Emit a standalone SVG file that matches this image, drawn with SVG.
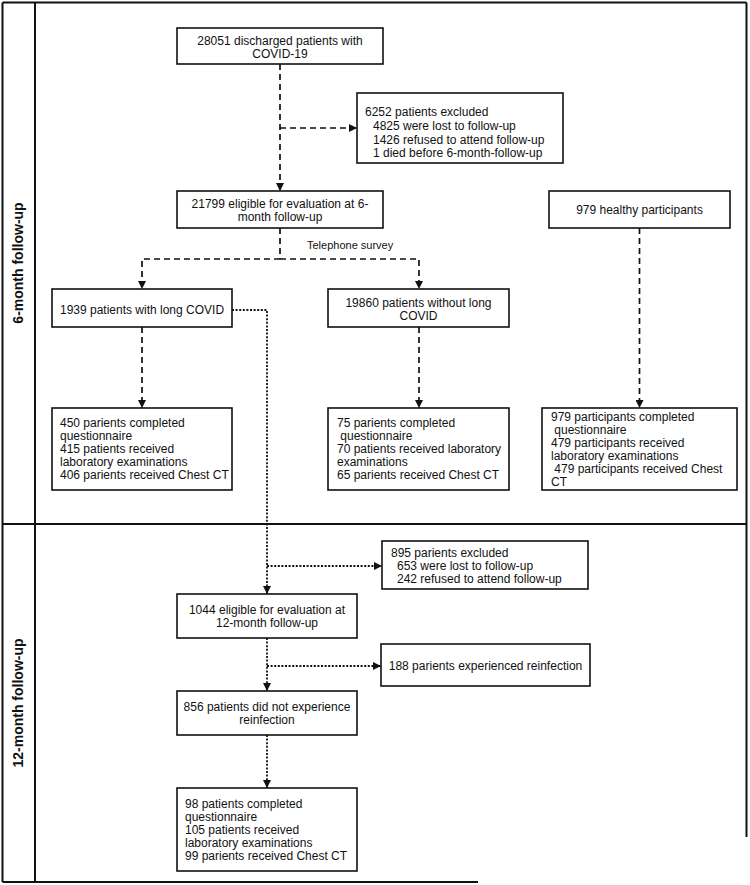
<svg xmlns="http://www.w3.org/2000/svg" width="750" height="885" viewBox="0 0 750 885">
<style>
.frame{stroke:#111;stroke-width:2;fill:none}
.box{fill:#fff;stroke:#111;stroke-width:1.6}
.t{font-family:"Liberation Sans",Arial,sans-serif;font-size:12px;fill:#111}
.c{text-anchor:middle}
.lbl{font-family:"Liberation Sans",Arial,sans-serif;font-size:14px;font-weight:bold;fill:#111;text-anchor:middle}
.dash{stroke:#111;stroke-width:1.7;fill:none;stroke-dasharray:6 4}
.dot{stroke:#111;stroke-width:1.8;fill:none;stroke-dasharray:2 1.6}
</style>
<defs>
<marker id="arr" viewBox="0 0 10 10" refX="10" refY="5" markerWidth="8" markerHeight="8" markerUnits="userSpaceOnUse" orient="auto">
<path d="M0,0 L10,5 L0,10 z" fill="#111"/>
</marker>
</defs>
<rect width="750" height="885" fill="#fff"/>
<g id="frame">
<line class="frame" x1="2.5" y1="2.5" x2="746.5" y2="2.5"/>
<line class="frame" x1="2.5" y1="2.5" x2="2.5" y2="882"/>
<line class="frame" x1="746.5" y1="2.5" x2="746.5" y2="837"/>
<line class="frame" x1="2.5" y1="882" x2="478" y2="882"/>
<line class="frame" x1="35" y1="2.5" x2="35" y2="882"/>
<line class="frame" x1="2.5" y1="524" x2="746.5" y2="524"/>
<text class="lbl" transform="translate(23,263) rotate(-90)">6-month follow-up</text>
<text class="lbl" transform="translate(23,703) rotate(-90)">12-month follow-up</text>
</g>
<g id="connectors">
<path class="dash" d="M280,64 V191" marker-end="url(#arr)"/>
<path class="dash" d="M280,128 H357" marker-end="url(#arr)"/>
<path class="dash" d="M280,228 V259"/>
<path class="dash" d="M280,259 H142 V289" marker-end="url(#arr)"/>
<path class="dash" d="M280,259 H419 V289" marker-end="url(#arr)"/>
<path class="dash" d="M142,327 V408" marker-end="url(#arr)"/>
<path class="dash" d="M419,327 V408" marker-end="url(#arr)"/>
<path class="dash" d="M639.5,228 V408" marker-end="url(#arr)"/>
<path class="dot" d="M232,310 H267 V594" marker-end="url(#arr)"/>
<path class="dot" d="M267,566 H382" marker-end="url(#arr)"/>
<path class="dot" d="M267,638 V691" marker-end="url(#arr)"/>
<path class="dot" d="M267,666 H381" marker-end="url(#arr)"/>
<path class="dot" d="M267,735 V788" marker-end="url(#arr)"/>
<text class="t" x="307" y="249" style="font-size:11px">Telephone survey</text>
</g>
<g id="n_discharged">
<rect class="box" x="177" y="28" width="206" height="36"/>
<text class="t c" x="280" y="45">28051 discharged patients with</text>
<text class="t c" x="280" y="58">COVID-19</text>
</g>
<g id="n_excluded6">
<rect class="box" x="357" y="93" width="206" height="70"/>
<text class="t" x="365" y="116">6252 patients excluded</text>
<text class="t" x="373" y="130">4825 were lost to follow-up</text>
<text class="t" x="373" y="143.5">1426 refused to attend follow-up</text>
<text class="t" x="373" y="157">1 died before 6-month-follow-up</text>
</g>
<g id="n_eligible6">
<rect class="box" x="177" y="191" width="206" height="37"/>
<text class="t c" x="280" y="208">21799 eligible for evaluation at 6-</text>
<text class="t c" x="280" y="221">month follow-up</text>
</g>
<g id="n_healthy">
<rect class="box" x="549" y="191" width="181" height="37"/>
<text class="t c" x="639.5" y="214">979 healthy participants</text>
</g>
<g id="n_long">
<rect class="box" x="52" y="289" width="180" height="38"/>
<text class="t c" x="142" y="314">1939 patients with long COVID</text>
</g>
<g id="n_nolong">
<rect class="box" x="328" y="289" width="181" height="38"/>
<text class="t c" x="418.5" y="307">19860 patients without long</text>
<text class="t c" x="418.5" y="320">COVID</text>
</g>
<g id="n_long_res">
<rect class="box" x="52" y="408" width="180" height="82"/>
<text class="t" x="60" y="427">450 parients completed</text>
<text class="t" x="60" y="440">questionnaire</text>
<text class="t" x="60" y="453">415 patients received</text>
<text class="t" x="60" y="466">laboratory examinations</text>
<text class="t" x="60" y="479">406 parients received Chest CT</text>
</g>
<g id="n_nolong_res">
<rect class="box" x="328" y="408" width="181" height="82"/>
<text class="t" x="337" y="427">75 parients completed</text>
<text class="t" x="337" y="440" xml:space="preserve"> questionnaire</text>
<text class="t" x="337" y="453">70 patients received laboratory</text>
<text class="t" x="337" y="466">examinations</text>
<text class="t" x="337" y="479">65 parients received Chest CT</text>
</g>
<g id="n_healthy_res">
<rect class="box" x="542" y="408" width="195" height="82"/>
<text class="t" x="551" y="421">979 participants completed</text>
<text class="t" x="551" y="434" xml:space="preserve"> questionnaire</text>
<text class="t" x="551" y="447">479 participants received</text>
<text class="t" x="551" y="460">laboratory examinations</text>
<text class="t" x="551" y="473" xml:space="preserve"> 479 participants received Chest</text>
<text class="t" x="551" y="486">CT</text>
</g>
<g id="n_excluded12">
<rect class="box" x="382" y="541" width="206" height="48"/>
<text class="t" x="391" y="557">895 parients excluded</text>
<text class="t" x="397" y="570">653 were lost to follow-up</text>
<text class="t" x="397" y="583">242 refused to attend follow-up</text>
</g>
<g id="n_eligible12">
<rect class="box" x="177" y="594" width="180" height="44"/>
<text class="t c" x="267" y="614">1044 eligible for evaluation at</text>
<text class="t c" x="267" y="627">12-month follow-up</text>
</g>
<g id="n_reinf">
<rect class="box" x="381" y="644" width="209" height="42"/>
<text class="t c" x="485.5" y="670">188 parients experienced reinfection</text>
</g>
<g id="n_noreinf">
<rect class="box" x="177" y="691" width="180" height="44"/>
<text class="t c" x="267" y="711">856 patients did not experience</text>
<text class="t c" x="267" y="724">reinfection</text>
</g>
<g id="n_res12">
<rect class="box" x="177" y="788" width="180" height="83"/>
<text class="t" x="185" y="808">98 patients completed</text>
<text class="t" x="185" y="821">questionnaire</text>
<text class="t" x="185" y="834">105 patients received</text>
<text class="t" x="185" y="847">laboratory examinations</text>
<text class="t" x="185" y="860">99 parients received Chest CT</text>
</g>
</svg>
